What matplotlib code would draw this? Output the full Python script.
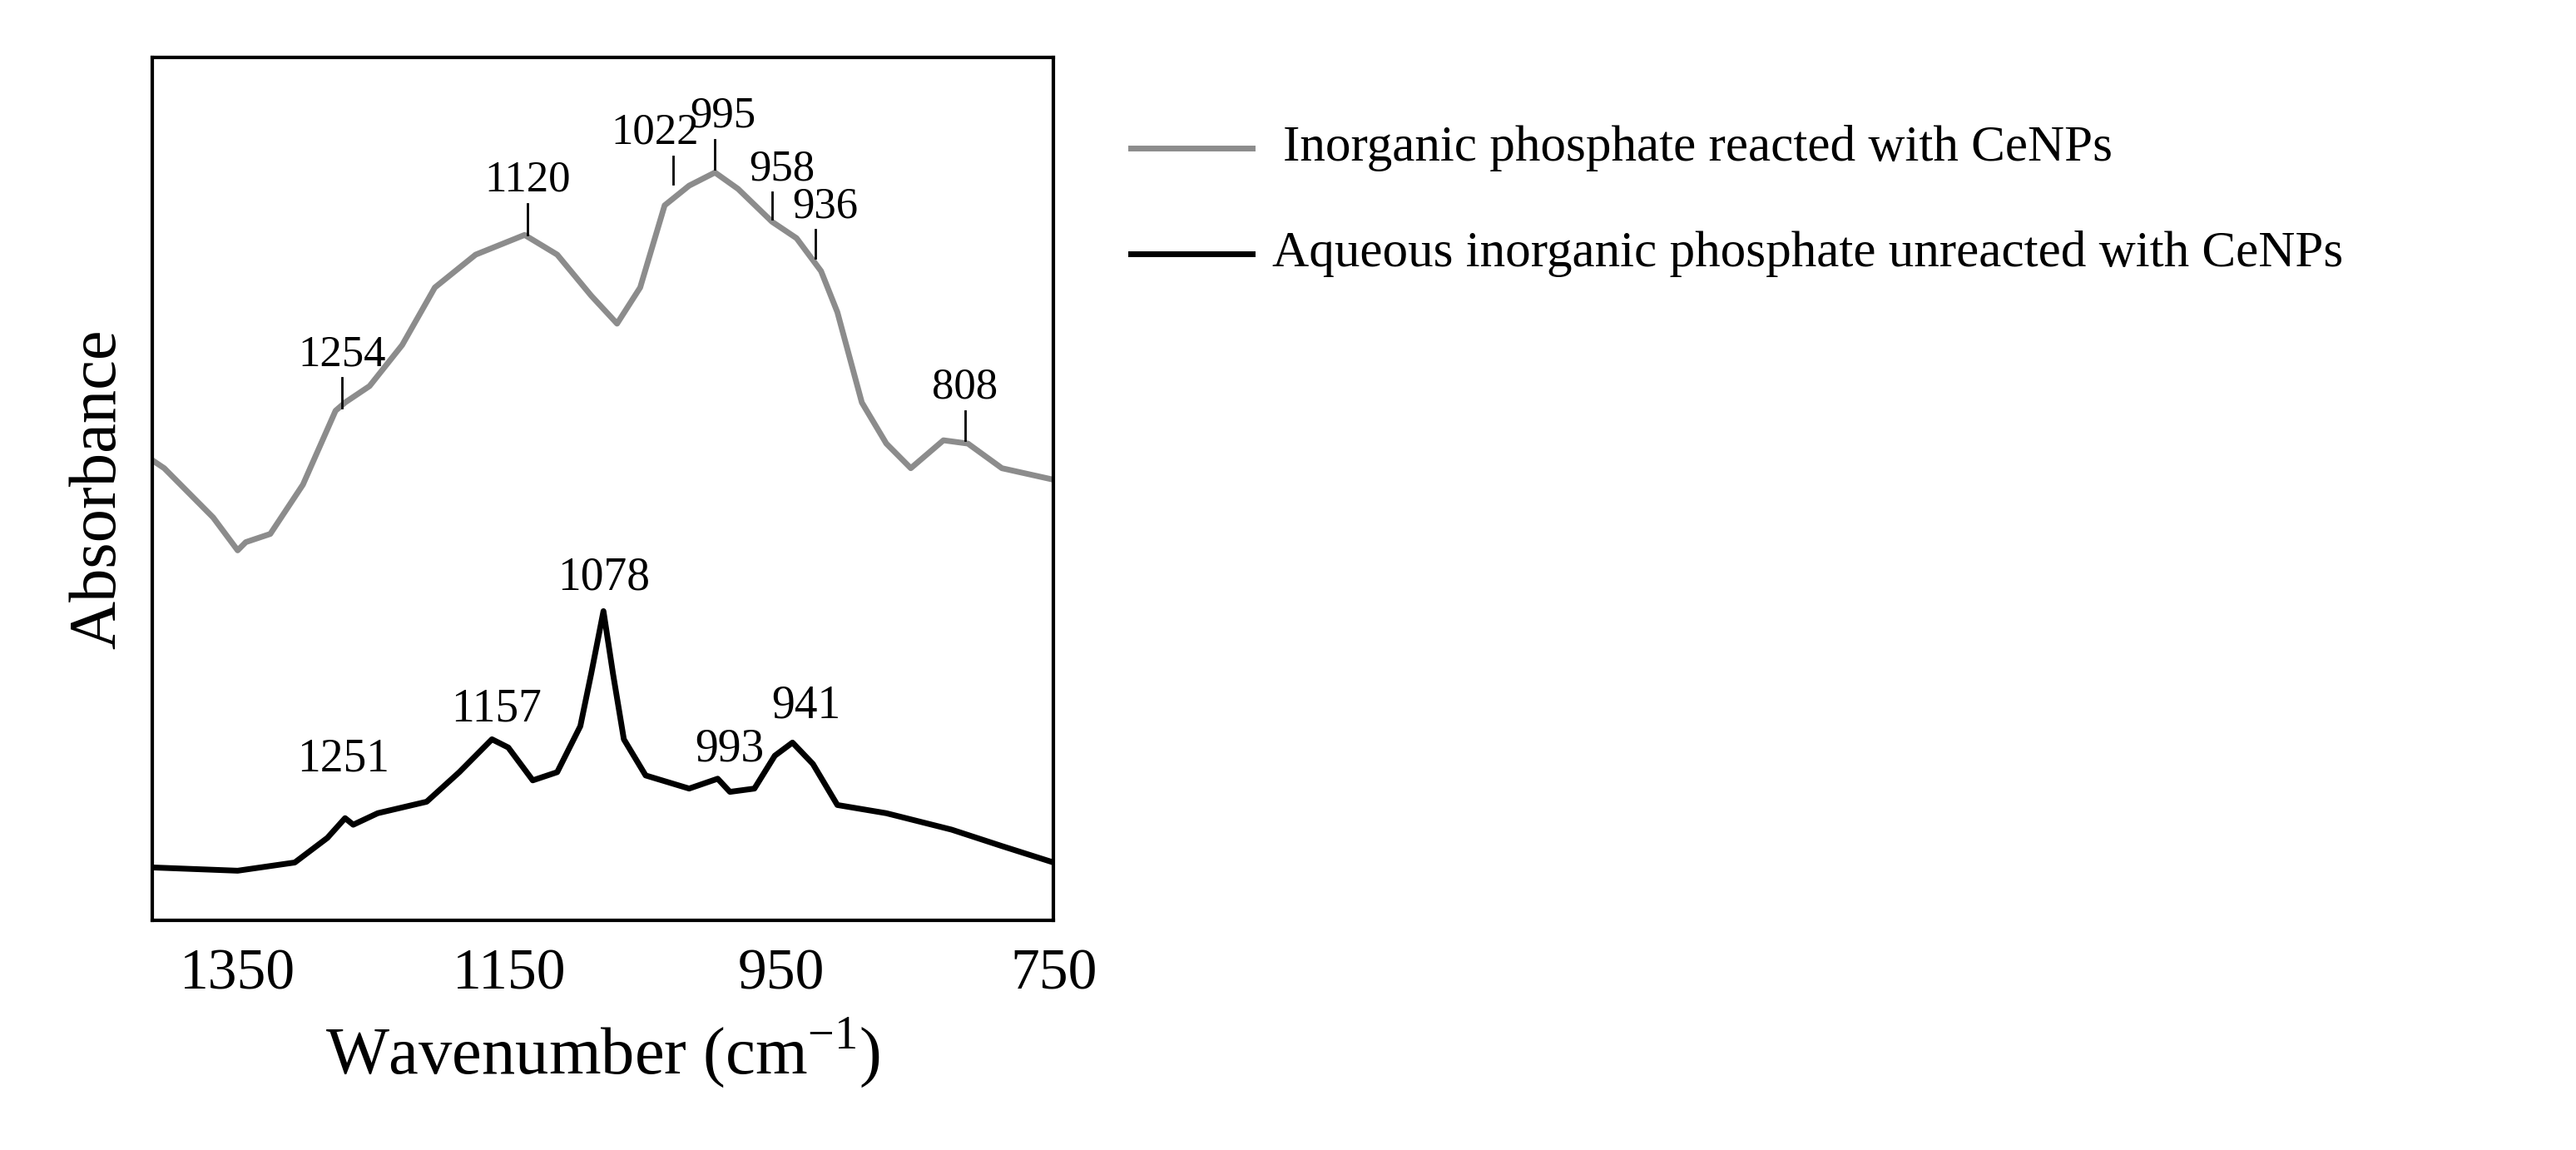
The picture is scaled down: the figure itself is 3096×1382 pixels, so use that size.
import matplotlib.pyplot as plt
from matplotlib.lines import Line2D

plt.rcParams['font.family'] = ['Liberation Serif', 'DejaVu Serif']

# Reacted (grey) spectrum, wavenumber vs relative absorbance
wn_reacted = [1413, 1404, 1386, 1368, 1350, 1344, 1326, 1302, 1278, 1271, 1253, 1229, 1205, 1175,
              1139, 1115, 1090, 1071, 1054, 1036, 1018, 999, 982, 957, 939, 921, 909, 891, 873,
              855, 831, 813, 788, 750]
ab_reacted = [280, 275, 260, 245, 225, 230, 235, 265, 310, 315, 325, 350, 385, 405,
              417, 405, 380, 363, 385, 435, 447, 455, 445, 425, 415, 395, 370, 315, 290,
              275, 292, 290, 275, 268]

# Unreacted (black) spectrum
wn_aqueous = [1413, 1350, 1308, 1284, 1271, 1265, 1247, 1211, 1187, 1163, 1151, 1133, 1115, 1098,
              1090, 1081, 1074, 1066, 1050, 1018, 997, 988, 970, 955, 942, 927, 909, 873, 825,
              788, 750]
ab_aqueous = [32, 30, 35, 50, 62, 58, 65, 72, 90, 110, 105, 85, 90, 118,
              150, 188, 150, 110, 88, 80, 86, 78, 80, 100, 108, 95, 70, 65, 55,
              45, 35]

# grey peak labels: (label, x, tick bottom, tick top, label x)
gray_peaks = [('1254', 1273, 312, 330, 1273), ('1120', 1137, 417, 436, 1137),
              ('1022', 1030, 448, 465, 1043), ('995', 999, 457, 475, 993),
              ('958', 957, 427, 443, 950), ('936', 925, 403, 420, 918),
              ('808', 815, 292, 310, 815)]
# black peak labels: (label, x, y)
black_peaks = [('1251', 1272, 98), ('1157', 1160, 128), ('1078', 1081, 208),
               ('993', 988, 104), ('941', 932, 130)]

fig = plt.figure(figsize=(30.96, 13.82), dpi=100)
ax = fig.add_axes([0.059, 0.2, 0.35, 0.75])
grey = '#8c8c8c'
ax.plot(wn_reacted, ab_reacted, color=grey, lw=5)
ax.plot(wn_aqueous, ab_aqueous, color='black', lw=5)

for lab, x, y0, y1, lx in gray_peaks:
    ax.plot([x, x], [y0, y1], color='black', lw=2)
    ax.text(lx, y1 + 2, lab, ha='center', va='bottom', fontsize=38)
for lab, x, y in black_peaks:
    ax.text(x, y, lab, ha='center', va='center', fontsize=40)

ax.set_xlim(1413, 750)
ax.set_ylim(0, 525)
ax.set_xticks([1350, 1150, 950, 750])
ax.tick_params(axis='x', labelsize=50, length=0, pad=25)
ax.set_yticks([])
for s in ax.spines.values():
    s.set_linewidth(3)
ax.set_xlabel('Wavenumber (cm$^{\\mathregular{-1}}$)', fontsize=58, labelpad=12)
ax.set_ylabel('Absorbance', fontsize=58, labelpad=20)

# legend drawn in figure coordinates
fig.add_artist(Line2D([0.439, 0.486], [0.871, 0.871], color=grey, lw=5))
fig.add_artist(Line2D([0.439, 0.486], [0.779, 0.779], color='black', lw=5))
fig.text(0.498, 0.871, 'Inorganic phosphate reacted with CeNPs', fontsize=44, va='center')
fig.text(0.494, 0.779, 'Aqueous inorganic phosphate unreacted with CeNPs', fontsize=44, va='center')

fig.savefig('out.png', dpi=100)
